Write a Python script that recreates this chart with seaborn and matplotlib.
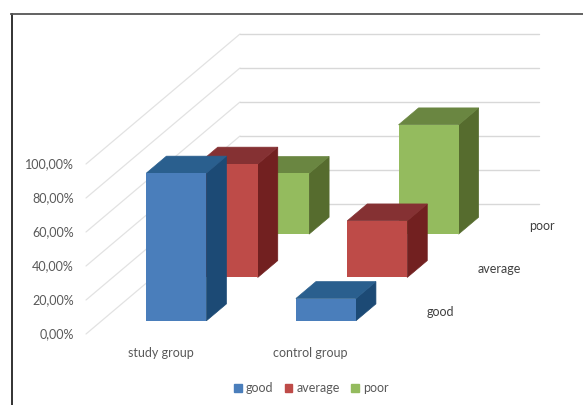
import matplotlib
matplotlib.use("Agg")
import matplotlib.pyplot as plt
import numpy as np
import seaborn as sns
from matplotlib.patches import Patch, Polygon

# Data (percent)
groups = ["study group", "control group"]
levels = ["good", "average", "poor"]
good_values = [86.9, 13.1]
average_values = [66.7, 33.3]
poor_values = [35.7, 64.3]
y_ticks = [0, 20, 40, 60, 80, 100]
y_tick_labels = ["0,00%", "20,00%", "40,00%", "60,00%", "80,00%", "100,00%"]

front_colors = ["#4A7EBB", "#BE4B48", "#94BB5E"]
top_colors = ["#2A5F8E", "#853133", "#6A8641"]
side_colors = ["#1C4A75", "#722020", "#566C2E"]

sns.set_theme(style="white")
plt.rcParams["font.family"] = ["Lato", "DejaVu Sans"]

# Oblique projection: one group = 149.5 px, 1 % = 1.7 px, all rows = 154 px right, 130 px up
px_x = 149.5
px_y = 1.7
depth_x = 154 / 3 / px_x
depth_y = 130 / 3 / px_y
bar_width = 60 / px_x
bar_depth = 0.39
start_depth = (1 - bar_depth) / 2


def proj(x, depth, value):
    return x + depth * depth_x, value + depth * depth_y


# Axes box in pixels; the spines are the chart frame
left, top, right, bottom = 11.5, 14, 583, 405
fig = plt.figure(figsize=(5.83, 4.05), dpi=100)
ax = fig.add_axes([left / 583, 1 - bottom / 405, (right - left) / 583, (bottom - top) / 405])

# Gridlines: along the left wall, then along the back wall
for v in y_ticks:
    xs, ys = zip(proj(0, 0, v), proj(0, 3, v))
    ax.plot(xs, ys, color="#E2E2E2", lw=0.9, zorder=1)
    xs, ys = zip(proj(0, 3, v), proj(2, 3, v))
    ax.plot(xs, ys, color="#D8D8D8", lw=1, zorder=1)

all_values = [good_values, average_values, poor_values]
for row in [2, 1, 0]:
    values = all_values[row]
    d0 = row + start_depth
    d1 = d0 + bar_depth
    for g in range(len(groups)):
        xa = g + 0.5 - bar_width / 2
        xb = g + 0.5 + bar_width / 2
        v = values[g]
        z = 10 - row
        side = [proj(xb, d0, 0), proj(xb, d1, 0), proj(xb, d1, v), proj(xb, d0, v)]
        roof = [proj(xa, d0, v), proj(xb, d0, v), proj(xb, d1, v), proj(xa, d1, v)]
        ax.add_patch(Polygon(side, fc=side_colors[row], ec=side_colors[row], lw=0.5, zorder=z))
        ax.add_patch(Polygon(roof, fc=top_colors[row], ec=top_colors[row], lw=0.5, zorder=z))
    # Front faces are ordinary bars lifted to the floor height of their row
    fx, fy = proj(np.array([0.5, 1.5]), d0, 0)
    sns.barplot(x=fx, y=values, native_scale=True, width=bar_width, bottom=fy,
                color=front_colors[row], saturation=1, lw=0, ax=ax, zorder=10 - row + 0.5)

ax.set_xlim((left - 86) / px_x, (right - 86) / px_x)
ax.set_ylim((334 - bottom) / px_y, (334 - top) / px_y)
ax.set_xticks([])
ax.set_yticks([])
ax.set_xlabel("")
ax.set_ylabel("")
sns.despine(ax=ax, top=False, left=False, right=True, bottom=True)
ax.spines["top"].set_color("#555555")
ax.spines["left"].set_color("#222222")
ax.spines["top"].set_linewidth(1.3)
ax.spines["left"].set_linewidth(1.3)

label_x = (74 - 86) / px_x
for v, lab in zip(y_ticks, y_tick_labels):
    ax.text(label_x, v, lab, ha="right", va="center", fontsize=9, color="#595959")
for g, name in enumerate(groups):
    ax.text(g + 0.5, -11, name, ha="center", va="center", fontsize=9, color="#595959")
for row, name in enumerate(levels):
    x, y = proj(2 + 16 / px_x, row + 0.5, 0)
    ax.text(x, y, name, ha="left", va="center", fontsize=9, color="#404040")

handles = [Patch(color=c, label=n) for c, n in zip(front_colors, levels)]
ax.legend(handles=handles, ncol=3, frameon=False, fontsize=9, labelcolor="#595959",
          loc="center", bbox_to_anchor=((311.5 - left) / (right - left), (405 - 388) / (bottom - top)),
          handlelength=0.62, handleheight=0.62, handletextpad=0.35, columnspacing=0.9)

fig.savefig("out.png", dpi=100)
